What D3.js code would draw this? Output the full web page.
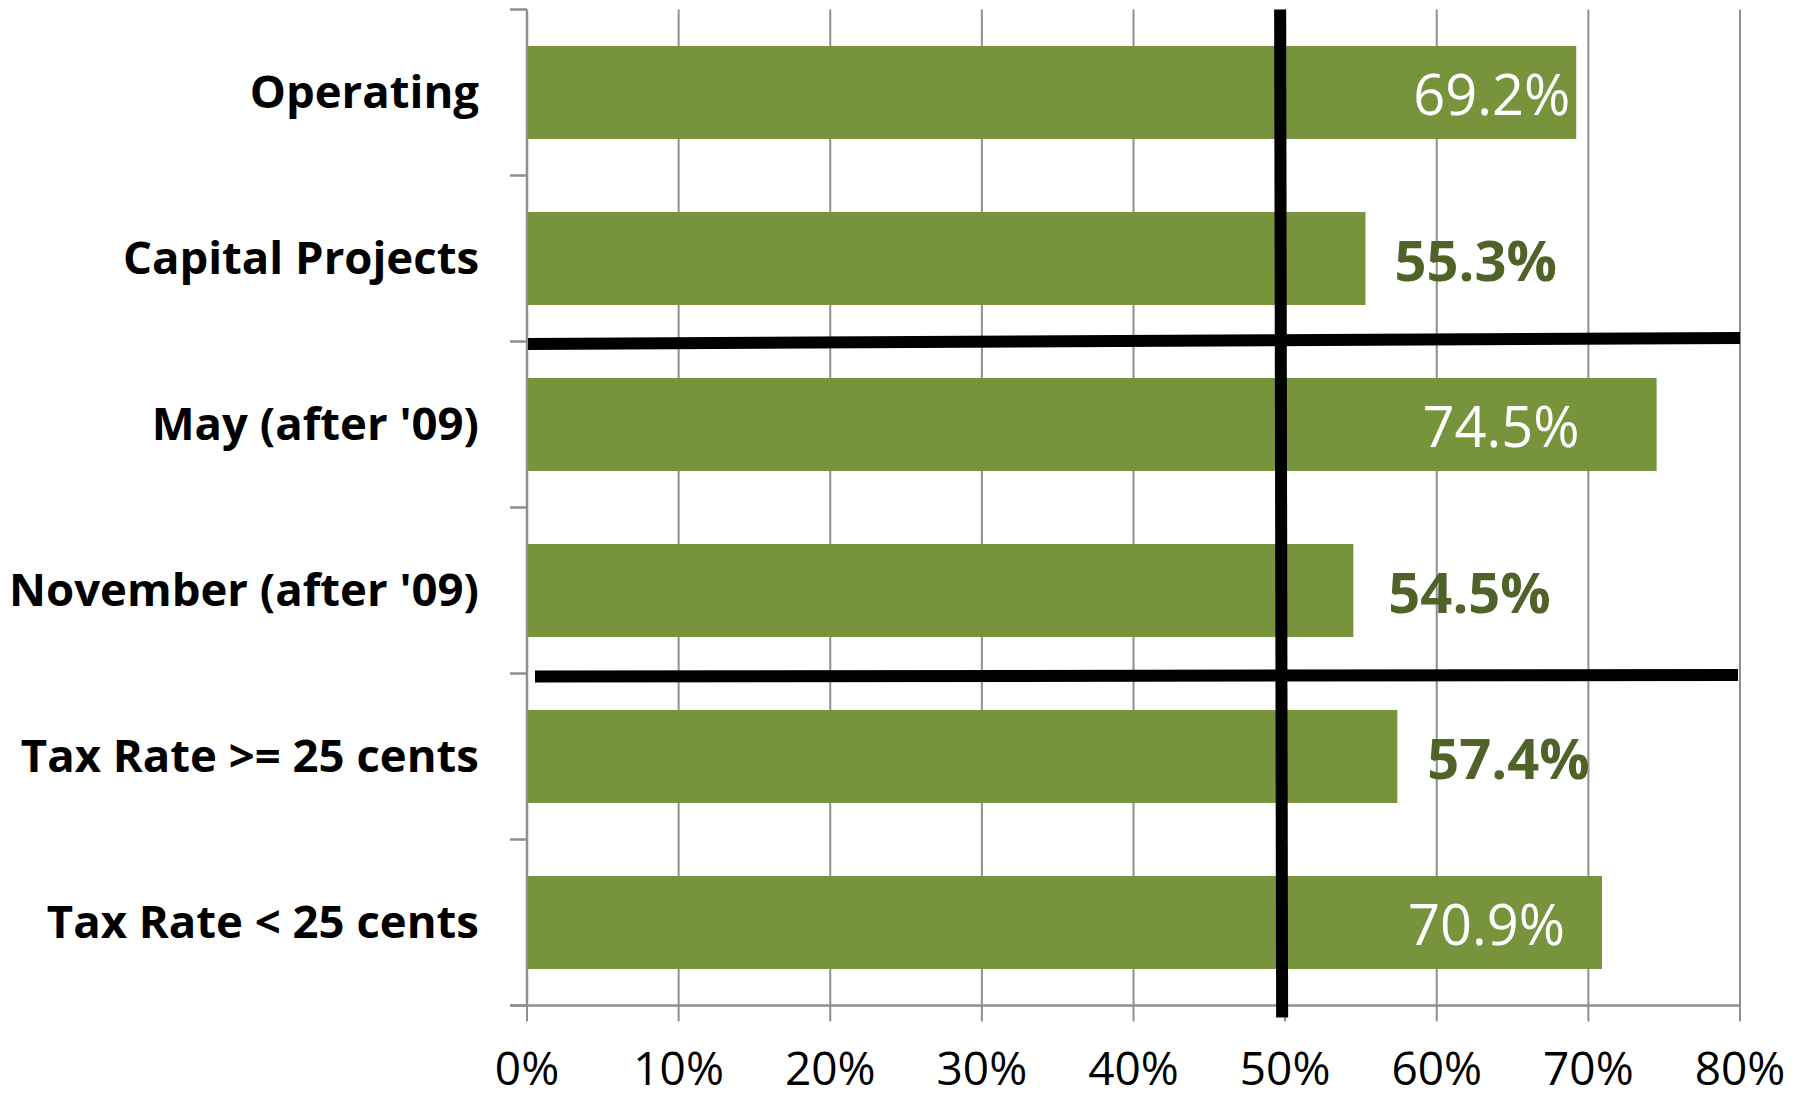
<!DOCTYPE html>
<html>
<head>
<meta charset="utf-8">
<script src="https://cdn.jsdelivr.net/npm/d3@7"></script>
<style>
  html, body { margin: 0; padding: 0; background: #fff; }
  svg { display: block; }
</style>
</head>
<body>
<svg id="chart" width="1809" height="1098"></svg>
<script>
const categories = ["Operating", "Capital Projects", "May (after '09)", "November (after '09)", "Tax Rate >= 25 cents", "Tax Rate < 25 cents"];
const values = [0.692, 0.553, 0.745, 0.545, 0.574, 0.709];
const labelInside = [true, false, true, false, false, true];
const xTicks = [0, 0.1, 0.2, 0.3, 0.4, 0.5, 0.6, 0.7, 0.8];
const separatorsAfter = [2, 4]; // horizontal divider lines after these category counts

(function () {
const svg = d3.select("#chart");
const pLeft = 527, pRight = 1740, pTop = 9.5, pBottom = 1005.5;
const x = d3.scaleLinear().domain([0, 0.8]).range([pLeft, pRight]);
const y = d3.scaleBand().domain(categories).range([pTop, pBottom]).paddingInner(0.44).paddingOuter(0.22);
const step = y.step();

// label nudges (layout only): distance from bar end to label anchor
const labelGap = [6, 29, 77, 35, 30, 37];

const gray = "#8f8f8f";
const barColor = "#77933C";
const darkGreen = "#4F6228";
const font = "'Open Sans', 'Noto Sans', sans-serif";

// vertical gridlines (extend below axis as tick marks)
svg.append("g").selectAll("line").data(xTicks).join("line")
  .attr("x1", d => x(d)).attr("x2", d => x(d))
  .attr("y1", pTop).attr("y2", pBottom + 16)
  .attr("stroke", gray).attr("stroke-width", 2);

// y axis line
svg.append("line").attr("x1", pLeft).attr("x2", pLeft).attr("y1", pTop).attr("y2", pBottom)
  .attr("stroke", gray).attr("stroke-width", 2.5);
// y axis ticks at band boundaries
const boundaries = d3.range(categories.length + 1).map(i => pTop + i * step);
svg.append("g").selectAll("line").data(boundaries).join("line")
  .attr("x1", pLeft - 17).attr("x2", pLeft)
  .attr("y1", d => d).attr("y2", d => d)
  .attr("stroke", gray).attr("stroke-width", 2.5);
// x axis line
svg.append("line").attr("x1", pLeft - 17).attr("x2", pRight).attr("y1", pBottom).attr("y2", pBottom)
  .attr("stroke", gray).attr("stroke-width", 2.5);

// bars
svg.append("g").selectAll("rect").data(categories).join("rect")
  .attr("x", x(0) + 1)
  .attr("y", d => y(d))
  .attr("width", (d, i) => x(values[i]) - x(0) - 1)
  .attr("height", y.bandwidth())
  .attr("fill", barColor);

// x tick labels
svg.append("g").selectAll("text").data(xTicks).join("text")
  .attr("x", d => x(d)).attr("y", 1085)
  .attr("text-anchor", "middle")
  .attr("font-family", font)
  .attr("font-size", 46)
  .attr("fill", "#000")
  .text(d => d3.format(".0%")(d));

// category labels
svg.append("g").selectAll("text").data(categories).join("text")
  .attr("x", 479)
  .attr("y", d => y(d) + y.bandwidth() / 2 + 15)
  .attr("text-anchor", "end")
  .attr("font-family", font)
  .attr("font-weight", "bold")
  .attr("font-size", 45.5)
  .attr("fill", "#000")
  .text(d => d);

// annotation lines
const ann = svg.append("g");
ann.append("line")
  .attr("x1", x(0.5) - 5).attr("y1", pTop)
  .attr("x2", x(0.5) - 3).attr("y2", pBottom + 12)
  .attr("stroke", "#000").attr("stroke-width", 12);
ann.selectAll("line.sep").data(separatorsAfter).join("line")
  .attr("class", "sep")
  .attr("x1", (d, i) => i === 0 ? x(0) + 1 : x(0) + 8)
  .attr("x2", (d, i) => i === 0 ? x(0.8) : x(0.8) - 2)
  .attr("y1", d => pTop + d * step + (d === 2 ? 2.5 : 3))
  .attr("y2", d => pTop + d * step + (d === 2 ? -3.5 : 1.5))
  .attr("stroke", "#000").attr("stroke-width", 12);

// value labels
svg.append("g").selectAll("text").data(categories).join("text")
  .attr("x", (d, i) => labelInside[i] ? x(values[i]) - labelGap[i] : x(values[i]) + labelGap[i])
  .attr("y", d => y(d) + y.bandwidth() / 2 + 22)
  .attr("text-anchor", (d, i) => labelInside[i] ? "end" : "start")
  .attr("font-family", font)
  .attr("font-weight", (d, i) => labelInside[i] ? "normal" : "bold")
  .attr("font-size", 56)
  .attr("fill", (d, i) => labelInside[i] ? "#fff" : darkGreen)
  .text((d, i) => d3.format(".1%")(values[i]));
})();
</script>
</body>
</html>
